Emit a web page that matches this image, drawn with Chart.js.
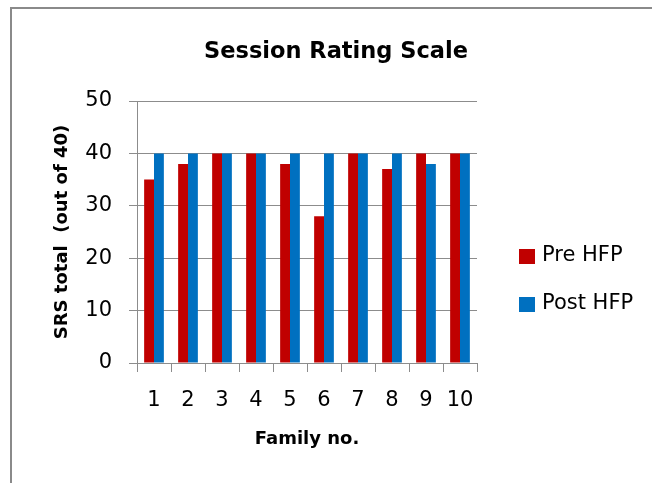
<!DOCTYPE html>
<html>
<head>
<meta charset="utf-8">
<script src="https://cdn.jsdelivr.net/npm/chart.js@4/dist/chart.umd.min.js"></script>
<style>
  html, body { margin: 0; padding: 0; background: #fff; }
  #wrap { position: relative; width: 652px; height: 483px; overflow: hidden; }
  #frame { position: absolute; left: 10px; top: 7px; width: 700px; height: 600px;
           border-left: 2px solid #8a8a8a; border-top: 2px solid #8a8a8a; pointer-events: none; }
  canvas { position: absolute; left: 0; top: 0; }
</style>
</head>
<body>
<div id="wrap">
  <canvas id="chart" width="652" height="483"></canvas>
  <div id="frame"></div>
</div>
<script>
// data
const families = ['1', '2', '3', '4', '5', '6', '7', '8', '9', '10'];
const preHFP = [35, 38, 40, 40, 38, 28, 40, 37, 40, 40];
const postHFP = [40, 40, 40, 40, 40, 40, 40, 40, 38, 40];
const yTicks = [0, 10, 20, 30, 40, 50];

const gridGray = '#8c8c8c';
const fontFam = '"DejaVu Sans", sans-serif';

// legend drawn by hand so it sits where the excel one does
const sideLegend = {
  id: 'sideLegend',
  afterDraw(chart) {
    const ctx = chart.ctx;
    ctx.save();
    ctx.font = '21px ' + fontFam;
    ctx.textBaseline = 'middle';
    ctx.textAlign = 'left';
    chart.data.datasets.forEach((ds, i) => {
      const y = 256 + i * 48;
      ctx.fillStyle = ds.backgroundColor;
      ctx.fillRect(519, y - 7, 16, 15);
      ctx.fillStyle = '#000';
      ctx.fillText(ds.label, 542, y);
    });
    ctx.restore();
  }
};

new Chart(document.getElementById('chart'), {
  type: 'bar',
  data: {
    labels: families,
    datasets: [
      { label: 'Pre HFP', data: preHFP, backgroundColor: '#C00000', categoryPercentage: 0.58, barPercentage: 1.0 },
      { label: 'Post HFP', data: postHFP, backgroundColor: '#0070C0', categoryPercentage: 0.58, barPercentage: 1.0 }
    ]
  },
  options: {
    responsive: false,
    animation: false,
    layout: { padding: { left: 20, right: 0, top: 0, bottom: 0 } },
    plugins: {
      legend: { display: false },
      tooltip: { enabled: false },
      title: {
        display: true,
        text: 'Session Rating Scale',
        color: '#000',
        font: { family: fontFam, size: 22.5, weight: 'bold' },
        padding: { top: 39, bottom: 35 }
      }
    },
    scales: {
      x: {
        grid: { offset: true, drawOnChartArea: false, tickLength: 9, color: gridGray },
        border: { color: gridGray, width: 1 },
        ticks: { color: '#000', font: { family: fontFam, size: 21 }, padding: 16, maxRotation: 0 },
        title: {
          display: true, text: 'Family no.', color: '#000',
          font: { family: fontFam, size: 18, weight: 'bold' },
          padding: { top: 0, bottom: 33 }
        },
        afterFit: s => { s.height = 120; }
      },
      y: {
        min: 0, max: 50,
        afterBuildTicks: s => { s.ticks = yTicks.map(v => ({ value: v })); },
        grid: { tickLength: 8, color: gridGray },
        border: { color: gridGray, width: 1 },
        ticks: { color: '#000', font: { family: fontFam, size: 21 }, padding: 17 },
        title: {
          display: true, text: 'SRS total  (out of 40)', color: '#000',
          font: { family: fontFam, size: 18, weight: 'bold' },
          padding: { top: 32, bottom: 0 }
        },
        afterFit: s => { s.width = 117; }
      },
      // empty axis only to keep room for the legend on the right
      y2: {
        position: 'right',
        display: true,
        grid: { display: false },
        border: { display: false },
        ticks: { display: false },
        afterFit: s => { s.width = 175; }
      }
    }
  },
  plugins: [sideLegend]
});
</script>
</body>
</html>
